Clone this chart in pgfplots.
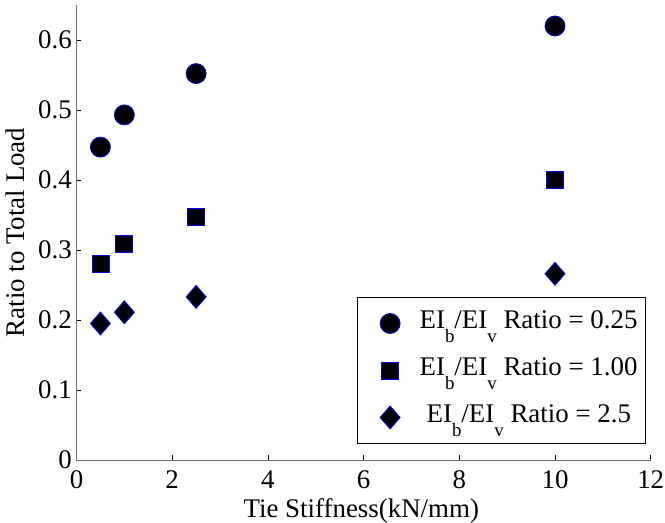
\documentclass[border=0pt]{standalone}
\usepackage{fontspec}
\setmainfont{Liberation Serif}
\usepackage{pgfplots}
\pgfplotsset{compat=1.18}
\newcommand{\sub}[1]{\raisebox{-0.53em}{\fontsize{19}{19}\selectfont #1}}
\begin{document}
\fontsize{27}{31}\selectfont
\begin{tikzpicture}
\path[use as bounding box] (-76.5bp,-63bp) rectangle (588.5bp,460bp);
\begin{axis}[
  scale only axis, width=574.2bp, height=455bp,
  xmin=0, xmax=12, ymin=0, ymax=0.65,
  clip=false,
  axis x line*=bottom, axis y line*=left,
  axis line style={gray!85!black, line width=1bp, -},
  xtick={0,2,4,6,8,10,12},
  xticklabels={},
  ytick={0,0.1,0.2,0.3,0.4,0.5,0.6},
  tick align=inside, major tick length=5bp,
  tick style={black, line width=0.8bp},
  /pgf/number format/assume math mode=true,
  ticklabel style={font=\fontsize{27}{31}\selectfont, inner sep=0pt},
  yticklabel shift=4.5bp,
  xlabel={Tie Stiffness(kN/mm)},
  ylabel={Ratio to Total Load},
  label style={font=\fontsize{27}{31}\selectfont},
  xlabel style={at={(axis description cs:0.496,-0.1253)}, anchor=base},
  ylabel style={at={(axis description cs:-0.0897,0.5)}, anchor=base},
  legend style={at={(rel axis cs:0.9918,0.0352)}, anchor=south east,
    draw=black, line width=1bp, font=\fontsize{27}{31}\selectfont,
    row sep=0pt, column sep=0pt, inner xsep=0pt, inner ysep=2.5bp,
    nodes={inner sep=0pt, text height=28.5bp, text depth=18.5bp}},
  legend cell align=left,
  legend image code/.code={\path (-32bp,0bp) (29bp,0bp); \draw[#1] plot coordinates {(0bp,0bp)};},
]
\addplot[only marks, mark=*, mark size=10bp, mark options={draw=blue, fill=black, line width=0.8bp}]
  coordinates {(0.5,0.447) (1,0.493) (2.5,0.552) (10,0.620)};
\addlegendentry{EI\sub{b}/EI\sub{v} Ratio = 0.25\hspace*{8bp}}
\addplot[only marks, mark=square*, mark size=8.5bp, mark options={draw=blue, fill=black, line width=0.8bp}]
  coordinates {(0.5,0.280) (1,0.308) (2.5,0.347) (10,0.400)};
\addlegendentry{EI\sub{b}/EI\sub{v} Ratio = 1.00\hspace*{8bp}}
\addplot[only marks, mark=diamond*, mark size=11.5bp, mark options={draw=blue, fill=black, line width=0.8bp, xscale=1.16}]
  coordinates {(0.5,0.195) (1,0.211) (2.5,0.233) (10,0.266)};
\addlegendentry{\hspace*{7bp}EI\sub{b}/EI\sub{v} Ratio = 2.5\hspace*{8bp}}
\foreach \t in {0,2,4,6,8,10,12}{
  \edef\temp{\noexpand\node[anchor=base, inner sep=0pt, font=\noexpand\fontsize{27}{31}\noexpand\selectfont] at ([yshift=-28bp]axis cs:\t,0) {\t};}
  \temp
}
\end{axis}
\end{tikzpicture}
\end{document}
